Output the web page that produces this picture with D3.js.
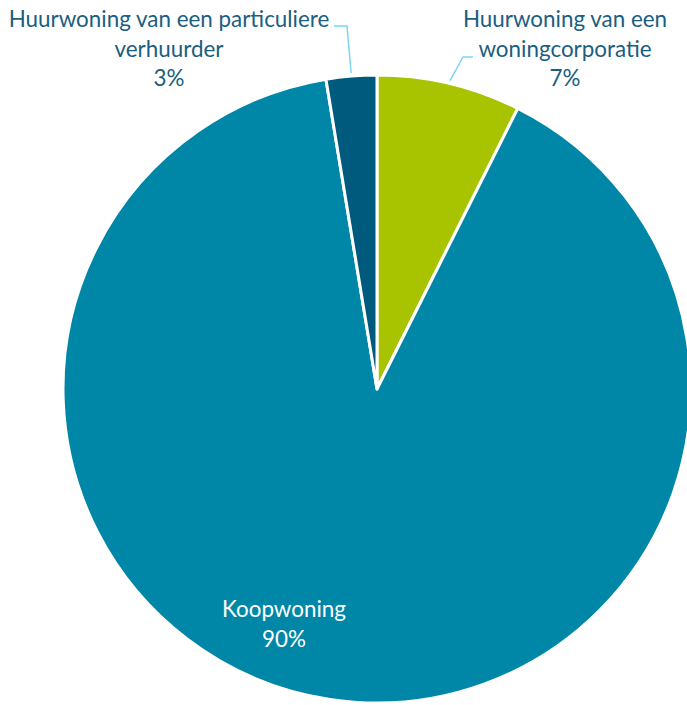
<!DOCTYPE html>
<html>
<head>
<meta charset="utf-8">
<script src="https://cdn.jsdelivr.net/npm/d3@7"></script>
<style>
  html, body { margin: 0; padding: 0; background: #fff; }
  svg { display: block; }
  text { font-family: Lato, "Noto Sans", sans-serif; }
</style>
</head>
<body>
<div id="chart"></div>
<script>
const categories = ["Huurwoning van een woningcorporatie", "Koopwoning", "Huurwoning van een particuliere verhuurder"];
const values = [7.4, 90.0, 2.6];
const labelLines = [["Huurwoning van een", "woningcorporatie"], ["Koopwoning"], ["Huurwoning van een particuliere", "verhuurder"]];
const colors = ["#A8C300", "#0087A8", "#005A7E"];

const W = 687, H = 705;
const cx = 377, cy = 389, R = 314;

const svg = d3.select("#chart").append("svg").attr("width", W).attr("height", H);

const data = categories.map((c, i) => ({ cat: c, value: values[i], lines: labelLines[i], color: colors[i] }));

const pie = d3.pie().sort(null).value(d => d.value);
const arc = d3.arc().innerRadius(0).outerRadius(R);
const arcs = pie(data);

const g = svg.append("g").attr("transform", `translate(${cx},${cy})`);
g.selectAll("path").data(arcs).join("path")
  .attr("d", arc)
  .attr("fill", d => d.data.color)
  .attr("stroke", "#fff")
  .attr("stroke-width", 3)
  .attr("stroke-linejoin", "round");

const labelPos = [
  { x: 565, y: 27, color: "#1B5E7F" },
  { x: 284, y: 617, color: "#ffffff" },
  { x: 169, y: 27, color: "#1B5E7F" }
];
const lineH = 29.5;

const leaderColor = "#7FD4F5";
function leader(pts) {
  svg.append("polyline")
    .attr("points", pts.map(p => p.join(",")).join(" "))
    .attr("fill", "none")
    .attr("stroke", leaderColor)
    .attr("stroke-width", 1.5);
}
(function () {
  const a = arcs[0];
  const ang = (a.startAngle + a.endAngle) / 2;
  const px = cx + Math.sin(ang) * (R + 3), py = cy - Math.cos(ang) * (R + 3);
  leader([[px, py], [463, 57], [473, 57]]);
})();
(function () {
  const a = arcs[2];
  const ang = (a.startAngle + a.endAngle) / 2;
  const px = cx + Math.sin(ang) * (R + 3), py = cy - Math.cos(ang) * (R + 3);
  leader([[px, py], [347, 26], [334, 26]]);
})();

arcs.forEach((a, i) => {
  const p = labelPos[i];
  const lines = a.data.lines.concat([Math.round(a.data.value) + "%"]);
  const t = svg.append("text")
    .attr("text-anchor", "middle")
    .attr("fill", p.color)
    .attr("font-size", 22.4);
  lines.forEach((ln, k) => {
    t.append("tspan").attr("x", p.x).attr("y", p.y + k * lineH).text(ln);
  });
});
</script>
</body>
</html>
